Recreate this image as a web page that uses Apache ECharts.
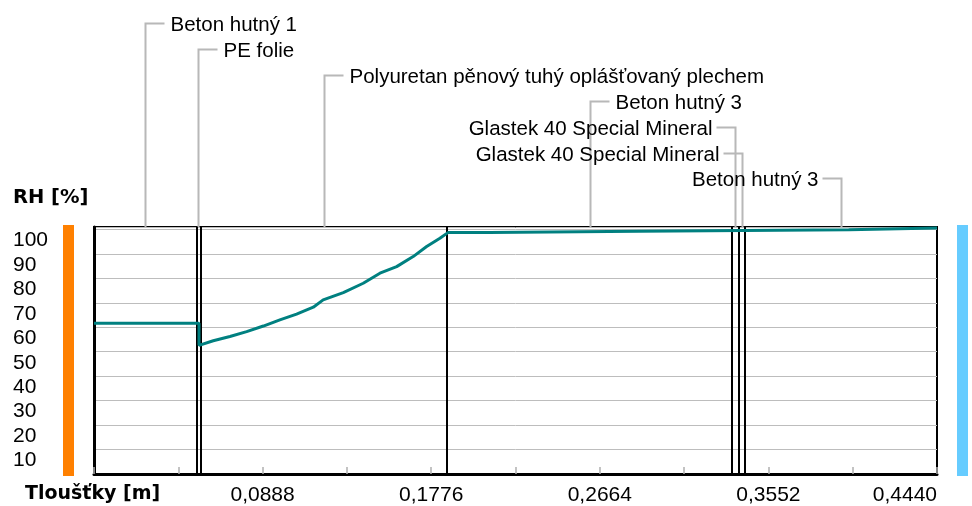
<!DOCTYPE html>
<html>
<head>
<meta charset="utf-8">
<script src="https://cdn.jsdelivr.net/npm/echarts@6/dist/echarts.min.js"></script>
<style>
  html, body { margin: 0; padding: 0; background: #fff; }
  #main { width: 972px; height: 506px; }
</style>
</head>
<body>
<div id="main"></div>
<script>
  // vrstvy konstrukce a jejich hranice [m]
  var layerNames = ['Beton hutný 1', 'PE folie', 'Polyuretan pěnový tuhý oplášťovaný plechem',
                    'Beton hutný 3', 'Glastek 40 Special Mineral', 'Glastek 40 Special Mineral', 'Beton hutný 3'];
  var layerBounds = [0, 0.054, 0.056, 0.186, 0.336, 0.3395, 0.343, 0.444];

  // průběh relativní vlhkosti
  var rhX = [0, 0.0553, 0.0553, 0.0558, 0.0628, 0.0716, 0.0804, 0.0892, 0.0979, 0.1067, 0.1155,
             0.1207, 0.1313, 0.1418, 0.1506, 0.1594, 0.1681, 0.1752, 0.1822, 0.1864,
             0.2080, 0.2080, 0.2870, 0.2870, 0.3975, 0.3975, 0.444];
  var rhY = [61.6, 61.6, 52.6, 52.6, 54.5, 56.2, 58.2, 60.5, 63.0, 65.4, 68.2,
             71.2, 74.2, 78.0, 82.1, 84.8, 88.9, 93.0, 96.4, 98.7,
             98.7, 99.3, 99.3, 99.9, 99.9, 100.6, 100.6];

  var yTicks = [10, 20, 30, 40, 50, 60, 70, 80, 90, 100];
  var xTickLabels = ['0,0888', '0,1776', '0,2664', '0,3552', '0,4440'];

  var chartDom = document.getElementById('main');
  var myChart = echarts.init(chartDom);
  var option;

  var lineData = rhX.map(function (x, i) { return [x, rhY[i]]; });
  var bounds = layerBounds.slice(1, -1).map(function (b) { return { xAxis: b }; });

  option = {
    animation: false,
    backgroundColor: '#fff',
    textStyle: { fontFamily: 'Liberation Sans' },
    grid: {
      left: 94, right: 35, top: 227, bottom: 32,
      show: true, borderColor: '#000', borderWidth: 2
    },
    xAxis: {
      type: 'value',
      min: 0, max: 0.444, interval: 0.0444,
      axisLine: { show: true, lineStyle: { color: '#000', width: 3 } },
      axisTick: { show: true, inside: true, length: 7, lineStyle: { color: '#b0b0b0', width: 1.5 } },
      splitLine: { show: false },
      axisLabel: {
        color: '#000', fontSize: 21, margin: 11,
        alignMaxLabel: 'right',
        formatter: function (v) {
          var k = Math.round(v / 0.0444);
          if (k === 0 || k % 2 === 1) return '';
          return xTickLabels[k / 2 - 1];
        }
      }
    },
    yAxis: {
      type: 'value',
      min: 0, max: 101, interval: 10,
      axisLine: { show: true, lineStyle: { color: '#000', width: 3 } },
      axisTick: { show: false },
      splitLine: { show: true, lineStyle: { color: '#bdbdbd', width: 1 } },
      axisLabel: {
        color: '#000', fontSize: 21, align: 'left', margin: 81,
        verticalAlign: 'top', lineHeight: 22,
        formatter: function (v) {
          return yTicks.indexOf(v) >= 0 ? String(v) : '';
        }
      }
    },
    series: [{
      type: 'line',
      data: lineData,
      showSymbol: false,
      lineStyle: { color: '#008080', width: 3 },
      z: 5,
      markLine: {
        silent: true,
        symbol: 'none',
        precision: 5,
        label: { show: false },
        lineStyle: { color: '#000', width: 2, type: 'solid' },
        data: bounds
      }
    }]
  };

  option && myChart.setOption(option);

  // popisky vrstev s odkazovými čarami + barevné pruhy po stranách
  var plotTop = myChart.convertToPixel({ yAxisIndex: 0 }, 101);
  var plotBottom = myChart.convertToPixel({ yAxisIndex: 0 }, 0);
  var graphics = [];
  layerNames.forEach(function (name, i) {
    var mid = (layerBounds[i] + layerBounds[i + 1]) / 2;
    var px = Math.round(myChart.convertToPixel({ xAxisIndex: 0 }, mid)) + 0.5;
    var ly = Math.round(23 + i * 25.9) + 0.5;
    var right = i < 4;
    graphics.push({
      type: 'polyline',
      shape: { points: [[px, plotTop], [px, ly], [right ? px + 19 : px - 19, ly]] },
      style: { stroke: '#b8b8b8', lineWidth: 2, fill: null },
      z: 10
    });
    graphics.push({
      type: 'text',
      x: right ? px + 25 : px - 23,
      y: ly + 2,
      style: {
        text: name, fill: '#000', font: '20.5px "Liberation Sans"',
        align: right ? 'left' : 'right', verticalAlign: 'middle'
      },
      z: 10
    });
  });
  graphics.push({ type: 'rect', shape: { x: 63, y: plotTop - 2, width: 11, height: plotBottom - plotTop + 4 }, style: { fill: '#ff8000' } });
  graphics.push({ type: 'rect', shape: { x: 957, y: plotTop - 2, width: 11, height: plotBottom - plotTop + 4 }, style: { fill: '#66ccff' } });
  graphics.push({ type: 'text', x: 13, y: 198, style: { text: 'RH [%]', fill: '#000', font: 'bold 19.5px "DejaVu Sans"', verticalAlign: 'middle' } });
  graphics.push({ type: 'text', x: 25, y: 494, style: { text: 'Tloušťky [m]', fill: '#000', font: 'bold 19px "DejaVu Sans"', verticalAlign: 'middle' } });

  myChart.setOption({ graphic: graphics });
</script>
</body>
</html>
